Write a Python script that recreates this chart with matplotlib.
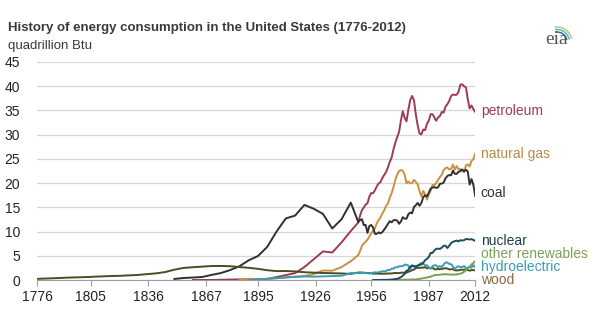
import matplotlib
matplotlib.use("Agg")
import matplotlib.pyplot as plt
from matplotlib.patches import Arc

plt.rcParams['font.family'] = ['Liberation Sans', 'DejaVu Sans']

# annual years for the 1949-2012 part of the record
annual = list(range(1949, 2013))

coal_years = [1850, 1855, 1860, 1865, 1870, 1875, 1880, 1885, 1890, 1895, 1900, 1905,
              1910, 1915, 1920, 1925, 1930, 1935, 1940, 1945] + annual
coal = [0.22, 0.42, 0.52, 0.63, 1.05, 1.44, 2.05, 2.84, 4.06, 4.95, 6.84, 10.0,
        12.71, 13.29, 15.5, 14.71, 13.64, 10.63, 12.54, 15.97,
        11.98, 12.35, 12.55, 11.31, 11.37, 9.72, 11.17, 11.35, 10.82, 9.53,
        9.52, 9.84, 9.62, 9.91, 10.41, 10.96, 11.58, 12.14, 11.91, 12.33,
        12.38, 12.27, 11.6, 12.08, 12.97, 12.66, 12.66, 13.58, 13.92, 13.77,
        15.04, 15.42, 15.91, 15.32, 15.89, 17.07, 17.48, 17.26, 18.01, 18.85,
        19.07, 19.17, 18.99, 19.12, 19.84, 19.91, 20.09, 21.0, 21.45, 21.66,
        21.62, 22.58, 21.91, 21.9, 22.32, 22.47, 22.8, 22.45, 22.75, 22.39,
        19.69, 20.83, 19.66, 17.34]

petro_years = [1860, 1870, 1880, 1890, 1900, 1905, 1910, 1915, 1920, 1925, 1930,
               1935, 1940, 1945] + annual
petroleum = [0.01, 0.01, 0.1, 0.16, 0.23, 0.61, 1.01, 1.42, 2.68, 4.28, 5.9,
             5.68, 7.76, 10.11,
             11.88, 13.32, 14.43, 14.96, 15.56, 15.84, 17.25, 17.94, 17.93, 18.53,
             19.32, 19.92, 20.22, 21.05, 21.7, 22.3, 23.25, 24.4, 25.28, 26.98,
             28.34, 29.52, 30.56, 32.95, 34.84, 33.45, 32.73, 35.17, 37.12, 37.97,
             37.12, 34.2, 31.93, 30.23, 30.05, 31.05, 30.92, 32.2, 32.87, 34.22,
             34.21, 33.55, 32.85, 33.53, 33.84, 34.67, 34.55, 35.76, 36.27, 36.93,
             37.96, 38.26, 38.19, 38.22, 38.81, 40.29, 40.39, 39.96, 39.77, 37.28,
             35.4, 36.01, 35.28, 34.7]

gas_years = [1885, 1890, 1895, 1900, 1905, 1910, 1915, 1920, 1925, 1930, 1935,
             1940, 1945] + annual
natural_gas = [0.14, 0.26, 0.15, 0.25, 0.37, 0.54, 0.67, 0.82, 1.21, 1.97, 1.92,
               2.67, 3.87,
               5.15, 5.97, 7.05, 7.55, 7.91, 8.33, 9.0, 9.61, 10.19, 10.66,
               11.72, 12.39, 12.93, 13.73, 14.4, 15.29, 15.77, 16.99, 17.94, 19.21,
               20.68, 21.79, 22.47, 22.7, 22.51, 21.73, 19.95, 20.35, 19.93, 20.0,
               20.67, 20.24, 19.74, 18.36, 17.2, 18.39, 17.7, 16.59, 17.64, 18.45,
               19.6, 19.6, 20.03, 20.71, 21.23, 21.73, 22.67, 23.09, 23.22, 22.83,
               22.91, 23.82, 22.77, 23.51, 22.83, 22.91, 22.56, 22.22, 23.66, 23.84,
               23.42, 24.57, 24.95, 26.09]

nuclear_years = [1957, 1960, 1965, 1968] + list(range(1970, 2013))
nuclear = [0.0, 0.01, 0.04, 0.14,
           0.24, 0.41, 0.58, 0.91, 1.27, 1.9, 2.11, 2.7, 3.02, 2.78,
           2.74, 3.01, 3.13, 3.2, 3.55, 4.08, 4.38, 4.75, 5.59, 5.6,
           6.1, 6.42, 6.48, 6.41, 6.69, 7.08, 7.09, 6.6, 7.07, 7.61,
           7.86, 8.03, 8.14, 7.96, 8.22, 8.16, 8.21, 8.46, 8.43, 8.36,
           8.43, 8.27, 8.06]

hydro_years = [1890, 1895, 1900, 1905, 1910, 1915, 1920, 1925, 1930, 1935, 1940,
               1945] + annual
hydroelectric = [0.02, 0.09, 0.25, 0.39, 0.54, 0.66, 0.74, 0.7, 0.75, 0.81, 0.88,
                 1.44,
                 1.42, 1.42, 1.45, 1.5, 1.44, 1.39, 1.36, 1.43, 1.52, 1.59,
                 1.55, 1.61, 1.66, 1.82, 1.77, 1.89, 2.06, 2.06, 2.35, 2.35,
                 2.65, 2.63, 2.82, 2.86, 2.86, 3.18, 3.15, 2.98, 2.33, 2.94,
                 2.93, 2.9, 2.76, 3.27, 3.53, 3.39, 2.97, 3.07, 2.63, 2.33,
                 2.84, 3.05, 3.02, 2.62, 2.89, 2.68, 3.21, 3.59, 3.64, 3.3,
                 3.27, 2.81, 2.24, 2.69, 2.83, 2.69, 2.7, 2.87, 2.45, 2.51,
                 2.67, 2.54, 3.1, 2.63]

wood_years = [1776, 1780, 1785, 1790, 1795, 1800, 1805, 1810, 1815, 1820, 1825,
              1830, 1835, 1840, 1845, 1850, 1855, 1860, 1865, 1870, 1875, 1880,
              1885, 1890, 1895, 1900, 1905, 1910, 1915, 1920, 1925, 1930, 1935,
              1940, 1945] + annual
wood = [0.25, 0.3, 0.37, 0.45, 0.53, 0.58, 0.65, 0.74, 0.81, 0.86, 0.95,
        1.04, 1.21, 1.37, 1.64, 2.14, 2.5, 2.64, 2.77, 2.89, 2.9, 2.85,
        2.68, 2.52, 2.31, 2.02, 1.84, 1.86, 1.77, 1.61, 1.52, 1.46, 1.4,
        1.36, 1.26,
        1.55, 1.56, 1.54, 1.5, 1.48, 1.44, 1.42, 1.4, 1.32, 1.34,
        1.32, 1.32, 1.3, 1.32, 1.29, 1.34, 1.33, 1.37, 1.34, 1.42,
        1.46, 1.43, 1.43, 1.5, 1.53, 1.54, 1.5, 1.71, 1.84, 2.04,
        2.15, 2.48, 2.5, 2.51, 2.56, 2.55, 2.69, 2.43, 2.46, 2.51,
        2.56, 2.22, 2.21, 2.28, 2.22, 2.32, 2.37, 2.44, 2.37, 2.18,
        2.21, 2.26, 2.01, 1.98, 2.0, 2.12, 2.14, 2.11, 2.14, 2.04,
        1.93, 2.05, 2.05, 1.98]

other_years = [1960, 1965, 1970, 1975, 1980, 1983, 1985, 1988, 1990, 1993, 1995,
               1998, 2000, 2002, 2004, 2005, 2006, 2007, 2008, 2009, 2010, 2011, 2012]
other_renewables = [0.0, 0.0, 0.01, 0.07, 0.11, 0.3, 0.45, 0.7, 1.0, 1.1, 1.2,
                    1.15, 1.1, 1.15, 1.3, 1.45, 1.7, 2.0, 2.5, 2.8, 3.2, 3.5, 3.9]

tick_years = [1776, 1805, 1836, 1867, 1895, 1926, 1956, 1987, 2012]
y_ticks = [0, 5, 10, 15, 20, 25, 30, 35, 40, 45]

# (label, years, values, line colour, label colour, label y)
series = [
    ("petroleum", petro_years, petroleum, "#9e3b52", "#9e3b52", 34.8),
    ("natural gas", gas_years, natural_gas, "#c99140", "#b88a4a", 26.0),
    ("coal", coal_years, coal, "#2e3033", "#333333", 18.0),
    ("wood", wood_years, wood, "#4e4a22", "#8b6b3c", 0.0),
    ("hydroelectric", hydro_years, hydroelectric, "#3a9cb4", "#3a9cb4", 2.7),
    ("other renewables", other_years, other_renewables, "#78a04e", "#7f9f55", 5.4),
    ("nuclear", nuclear_years, nuclear, "#1d4a5c", "#1d3f4f", 8.1),
]

fig = plt.figure(figsize=(5.97, 3.31), dpi=100)
ax = fig.add_axes([0.062, 0.154, 0.734, 0.659])

for name, xs, ys, col, tcol, ly in series:
    ax.plot(xs, ys, color=col, lw=1.4, solid_joinstyle='round', zorder=3)
    ax.text(2015, ly, name, color=tcol, fontsize=10, va='center', ha='left',
            clip_on=False)

ax.set_xlim(1776, 2012)
ax.set_ylim(0, 45)
ax.set_xticks(tick_years)
ax.set_yticks(y_ticks)
ax.yaxis.grid(True, color='#d6d6d6', lw=0.9, zorder=0)
ax.set_axisbelow(True)
for s in ['top', 'right', 'left']:
    ax.spines[s].set_visible(False)
ax.spines['bottom'].set_color('#a0a0a0')
ax.tick_params(axis='y', length=0, labelsize=10, labelcolor='#222222', pad=12)
ax.tick_params(axis='x', length=4, color='#a0a0a0', labelsize=10,
               labelcolor='#222222', direction='out', pad=3)

fig.text(0.014, 0.905, "History of energy consumption in the United States (1776-2012)",
         fontsize=9.5, fontweight='bold', color='#3a3a3a', va='baseline')
fig.text(0.014, 0.852, "quadrillion Btu", fontsize=9.5, color='#3a3a3a', va='baseline')

# small eia mark in the corner
fig.text(0.932, 0.866, "eia", fontsize=14, color='#555555', family='Liberation Serif',
         ha='center', va='baseline')
for r, c in [(15, '#a8cc7a'), (12.5, '#5fb0cf'), (10, '#2d6f9e')]:
    fig.patches.append(Arc((557 / 597, 1 - 42 / 331), 2 * r / 597, 2 * r / 331,
                           theta1=20, theta2=95, color=c, lw=1.1,
                           transform=fig.transFigure))

fig.savefig("out.png", dpi=100)
